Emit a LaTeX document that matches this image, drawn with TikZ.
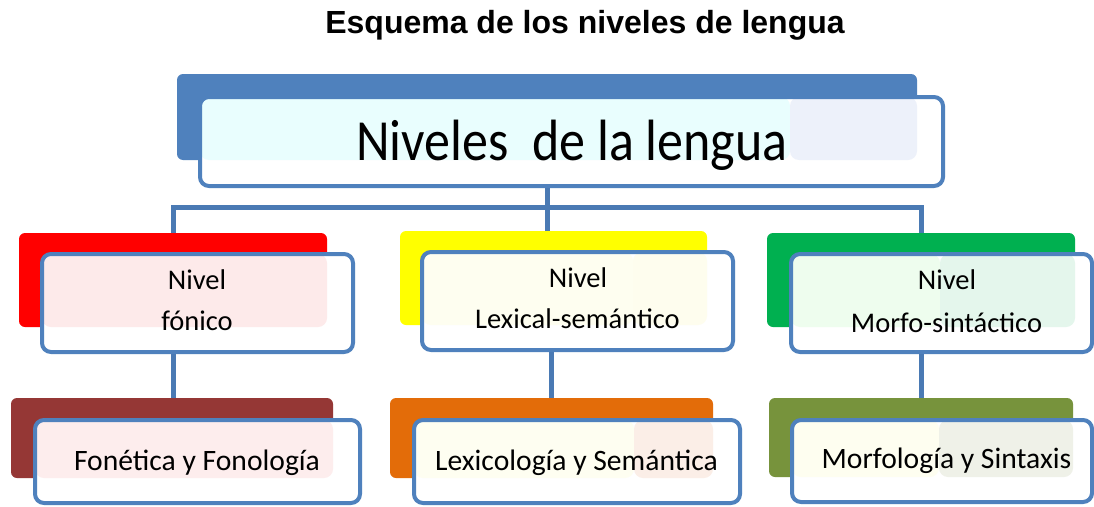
\documentclass[tikz,border=0pt]{standalone}
\usepackage{fontspec}
\setmainfont{Carlito}
\newfontfamily\titlefont{Liberation Sans}
\usepackage{graphicx}
\definecolor{topblue}{HTML}{4F81BD}
\definecolor{boxblue}{HTML}{4F81BD}
\definecolor{linkblue}{HTML}{4A7AB4}
\definecolor{cRed}{HTML}{FF0000}
\definecolor{cYellow}{HTML}{FFFF00}
\definecolor{cGreen}{HTML}{00B050}
\definecolor{cDarkRed}{HTML}{953735}
\definecolor{cOrange}{HTML}{E36C09}
\definecolor{cOlive}{HTML}{77933C}
\definecolor{tTopL}{HTML}{E9FEFE}
\definecolor{tTopR}{HTML}{EDF1FA}
\definecolor{tRed}{HTML}{FDEAEA}
\definecolor{tYelL}{HTML}{FEFEF0}
\definecolor{tYelR}{HTML}{FEFDEE}
\definecolor{tGrnL}{HTML}{EEFDEE}
\definecolor{tGrnR}{HTML}{E4F6EC}
\definecolor{tDRed}{HTML}{FDEDED}
\definecolor{tOrgL}{HTML}{FEFEF1}
\definecolor{tOrgR}{HTML}{FBEEE7}
\definecolor{tOlvL}{HTML}{FEFEF0}
\definecolor{tOlvR}{HTML}{EFF1E8}
\begin{document}
\begin{tikzpicture}[x=1pt,y=-1pt,
  back/.style={rounded corners=6pt, inner sep=0pt, outer sep=0pt},
  front/.style={draw=boxblue, line width=4pt, rounded corners=9pt, fill=white, inner sep=0pt, outer sep=0pt},
  conn/.style={draw=linkblue, line width=5pt},
  lbl/.style={inner sep=0pt, anchor=base, text=black},
  lvlone/.style={lbl, font=\fontsize{28.5}{28.5}\selectfont},
  lvltwo/.style={lbl, font=\fontsize{29.6}{29.6}\selectfont}
]
\useasboundingbox (0,0) rectangle (1094,506);
\clip (0,0) rectangle (1094,506);
\fill[white] (0,0) rectangle (1094,506);

% split coordinates for tints
\coordinate (sTop) at (790,0);
\coordinate (sYel) at (633,0);
\coordinate (sGrn) at (940,0);
\coordinate (sOrg) at (634,0);
\coordinate (sOlv) at (939,0);

% title
\node[lbl, font=\titlefont\bfseries\fontsize{32}{32}\selectfont] (title) at (585,33) {Esquema de los niveles de lengua};

% back rectangles (positions only; filled later)
\path node[back, minimum width=740pt, minimum height=86pt] (topb) at (547,117) {}
      node[back, minimum width=308pt, minimum height=94pt] (l1a) at (173,280) {}
      node[back, minimum width=307pt, minimum height=94pt] (l1b) at (553.5,278) {}
      node[back, minimum width=308pt, minimum height=94pt] (l1c) at (921,280) {}
      node[back, minimum width=322pt, minimum height=80pt] (l2a) at (172,438) {}
      node[back, minimum width=323pt, minimum height=80pt] (l2b) at (551.5,438) {}
      node[back, minimum width=304pt, minimum height=79pt] (l2c) at (921,437.5) {};

% connectors
\coordinate (bar) at (547,207);
\draw[conn] (topb.south) -- (topb.south |- l1b.north);
\draw[conn] (l1a.north) |- (bar) -| (l1c.north);
\draw[conn] (l1a.south) -- (l1a.south |- l2a.north);
\draw[conn] (l2b.north) -- (l2b.north |- l1b.south);
\draw[conn] (l1c.south) -- (l1c.south |- l2c.north);

% back rectangles filled
\fill[topblue, rounded corners=6pt] (topb.north west) rectangle (topb.south east);
\fill[cRed, rounded corners=6pt] (l1a.north west) rectangle (l1a.south east);
\fill[cYellow, rounded corners=6pt] (l1b.north west) rectangle (l1b.south east);
\fill[cGreen, rounded corners=6pt] (l1c.north west) rectangle (l1c.south east);
\fill[cDarkRed, rounded corners=6pt] (l2a.north west) rectangle (l2a.south east);
\fill[cOrange, rounded corners=6pt] (l2b.north west) rectangle (l2b.south east);
\fill[cOlive, rounded corners=6pt] (l2c.north west) rectangle (l2c.south east);

% front boxes
\node[front, minimum width=743pt, minimum height=89pt,
  path picture={\fill[tTopL] (path picture bounding box.north west) rectangle (sTop |- topb.south);
                \fill[tTopR] (sTop |- path picture bounding box.north) rectangle (topb.south east);}]
  (topf) at (571.5,141.5) {};
\node[front, minimum width=311pt, minimum height=98pt,
  path picture={\fill[tRed] (path picture bounding box.north west) rectangle (l1a.south east);}]
  (l1af) at (197.5,303) {};
\node[front, minimum width=311pt, minimum height=98pt,
  path picture={\fill[tYelL] (path picture bounding box.north west) rectangle (sYel |- l1b.south);
                \fill[tYelR] (sYel |- path picture bounding box.north) rectangle (l1b.south east);}]
  (l1bf) at (577.5,301) {};
\node[front, minimum width=301pt, minimum height=98pt,
  path picture={\fill[tGrnL] (path picture bounding box.north west) rectangle (sGrn |- l1c.south);
                \fill[tGrnR] (sGrn |- path picture bounding box.north) rectangle (l1c.south east);}]
  (l1cf) at (941.5,303) {};
\node[front, minimum width=325pt, minimum height=83pt,
  path picture={\fill[tDRed] (path picture bounding box.north west) rectangle (l2a.south east);}]
  (l2af) at (197.5,461.5) {};
\node[front, minimum width=326pt, minimum height=83pt,
  path picture={\fill[tOrgL] (path picture bounding box.north west) rectangle (sOrg |- l2b.south);
                \fill[tOrgR] (sOrg |- path picture bounding box.north) rectangle (l2b.south east);}]
  (l2bf) at (577,461.5) {};
\node[front, minimum width=300pt, minimum height=82pt,
  path picture={\fill[tOlvL] (path picture bounding box.north west) rectangle (sOlv |- l2c.south);
                \fill[tOlvR] (sOlv |- path picture bounding box.north) rectangle (l2c.south east);}]
  (l2cf) at (942,461) {};

% texts
\node[lbl, font=\fontsize{52}{52}\selectfont] (ttop) at (572,160) {\scalebox{1}[1.12]{Niveles\ \ de la lengua}};
\node[lvlone] (l1a-t1) at (197,289) {Nivel};
\node[lvlone] (l1a-t2) at (197,330) {fónico};
\node[lvlone] (l1b-t1) at (578,287) {Nivel};
\node[lvlone] (l1b-t2) at (577.5,328) {Lexical-semántico};
\node[lvlone] (l1c-t1) at (947,289) {Nivel};
\node[lvlone] (l1c-t2) at (946.5,332) {Morfo-sintáctico};
\node[lvltwo] (l2a-t) at (197,470) {Fonética y Fonología};
\node[lvltwo] (l2b-t) at (576.5,470) {Lexicología y Semántica};
\node[lvltwo] (l2c-t) at (946.5,468) {Morfología y Sintaxis};
\end{tikzpicture}
\end{document}
